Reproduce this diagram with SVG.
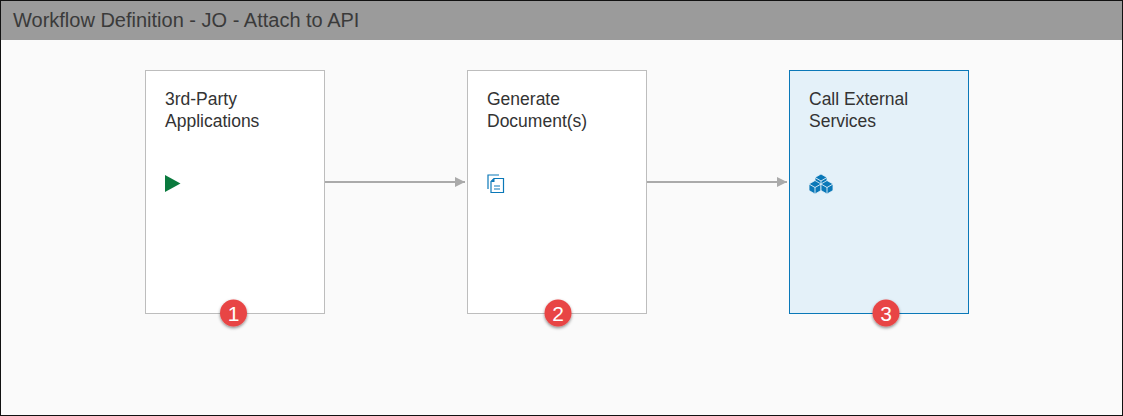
<svg xmlns="http://www.w3.org/2000/svg" width="1123" height="416" viewBox="0 0 1123 416">
<style>
text{font-family:"Liberation Sans",Arial,sans-serif}
.card{fill:#fff;stroke:#bdbdbd;stroke-width:1}
.sel{fill:#e4f1f9;stroke:#0a78b8;stroke-width:1}
.label{font-size:17.500px;fill:#333}
.conn{stroke:#aaa;stroke-width:2;fill:none;marker-end:url(#arr)}
.badge{fill:#e84545;filter:url(#sh)}
.num{font-size:21px;fill:#fff;text-anchor:middle}
.ic{fill:none;stroke:#0a78b8;stroke-width:1.200}
.cube{fill:#0a78b8;stroke:#e4f1f9;stroke-width:.8}
.top{fill:none;stroke:#e4f1f9;stroke-width:.9}
</style>
<defs>
<marker id="arr" markerUnits="userSpaceOnUse" markerWidth="11" markerHeight="10" refX="10" refY="5" orient="auto"><path d="M0 0L10 5L0 10Z" fill="#aaa"/></marker>
<filter id="sh" x="-30%" y="-30%" width="160%" height="170%"><feDropShadow dx="0" dy="1.500" stdDeviation="1.500" flood-color="#000" flood-opacity=".45"/></filter>
</defs>
<rect x="0" y="0" width="1123" height="416" fill="#111"/>
<rect x="1" y="1" width="1121" height="414" fill="#fafafa"/>
<g id="header">
<rect x="1" y="1" width="1121" height="39" fill="#9b9b9b"/>
<text x="13" y="27" font-size="20" fill="#3a3a3a">Workflow Definition - JO - Attach to API</text>
</g>
<g id="connectors">
<path class="conn" d="M325 182H465"/>
<path class="conn" d="M647 182H787"/>
</g>
<g id="node-1">
<rect class="card" x="145.500" y="70.500" width="179" height="243"/>
<text class="label" x="165" y="105">3rd-Party</text>
<text class="label" x="165" y="126.500">Applications</text>
<path d="M165 175L180.500 183.500L165 192Z" fill="#0a7a3e"/>
<circle class="badge" cx="233.500" cy="313" r="13.500"/>
<text class="num" x="233.500" y="320.500">1</text>
</g>
<g id="node-2">
<rect class="card" x="467.500" y="70.500" width="179" height="243"/>
<text class="label" x="487" y="105">Generate</text>
<text class="label" x="487" y="126.500">Document(s)</text>
<path class="ic" d="M488 189V175H499"/>
<path class="ic" d="M494 178.500H503.500V192.500H491V181.500Z"/>
<path d="M491 182L494.500 178V182Z" fill="#0a78b8"/>
<path class="ic" d="M494 186H500M494 189H500"/>
<circle class="badge" cx="558" cy="313" r="13.500"/>
<text class="num" x="558" y="320.500">2</text>
</g>
<g id="node-3">
<rect class="sel" x="789.500" y="70.500" width="179" height="243"/>
<text class="label" x="809" y="105">Call External</text>
<text class="label" x="809" y="126.500">Services</text>
<path class="cube" d="M821 174L827 177.500V184L821 187.500L815 184V177.500Z"/>
<path class="top" d="M815 177.500L821 181L827 177.500M821 181V187"/>
<path class="cube" d="M815 180.500L821 184V190.500L815 194L809 190.500V184Z"/>
<path class="top" d="M809 184L815 187.500L821 184M815 187.500V193.500"/>
<path class="cube" d="M827 180.500L833 184V190.500L827 194L821 190.500V184Z"/>
<path class="top" d="M821 184L827 187.500L833 184M827 187.500V193.500"/>
<circle class="badge" cx="886" cy="313" r="13.500"/>
<text class="num" x="886" y="320.500">3</text>
</g>
</svg>
